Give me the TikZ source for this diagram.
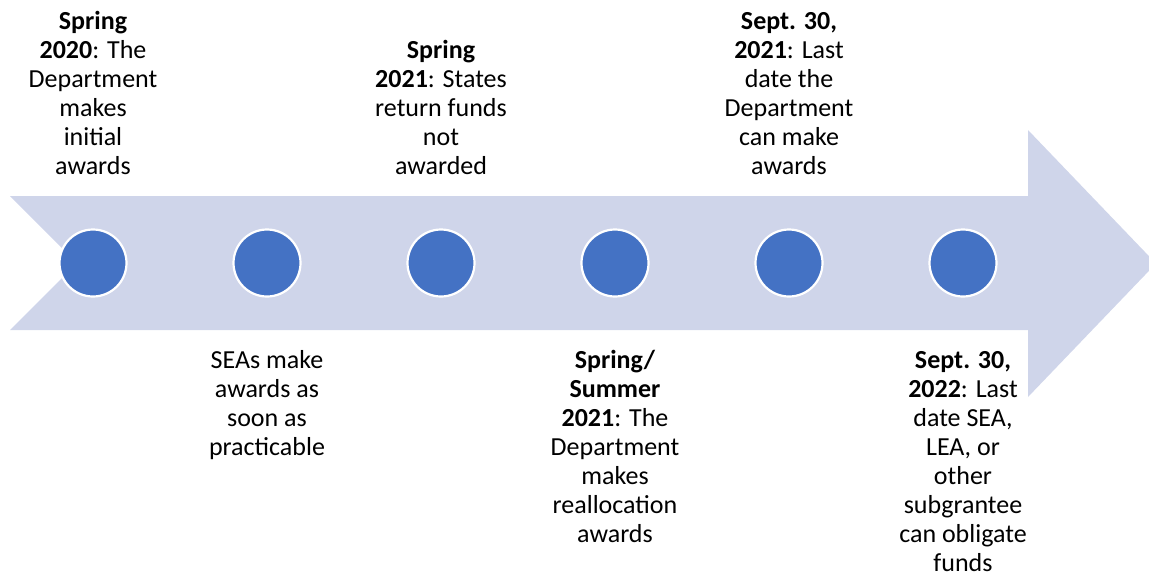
\documentclass[tikz,border=0pt]{standalone}
\usepackage{fontspec}
\setmainfont{Carlito}
\definecolor{arrowfill}{HTML}{CFD5EA}
\definecolor{dotfill}{HTML}{4472C4}
\begin{document}
\begin{tikzpicture}[x=1pt,y=-1pt,
  dot/.style={circle,fill=dotfill,draw=white,line width=2.2pt,minimum size=67pt,inner sep=0pt},
  lbl/.style={inner sep=0pt,anchor=base}]
\useasboundingbox (0,0) rectangle (1149,576);
\clip (0,0) rectangle (1149,576);
\fill[arrowfill] (10,196) -- (1028,196) -- (1028,130) -- (1156,263.5) -- (1028,397) -- (1028,330) -- (10,330) -- (77,263) -- cycle;
\foreach \i/\x in {1/93,2/267,3/441,4/615,5/789,6/963}{
  \node[dot] (c\i) at (\x,263) {};
}
\newcommand{\toptxt}[1]{\parbox[b]{170pt}{\fontsize{26}{29}\selectfont\centering #1}}
\newcommand{\bottxt}[1]{\parbox[t]{170pt}{\fontsize{26}{29}\selectfont\centering #1}}
\node[lbl] (t1) at (93,174) {\toptxt{\textbf{Spring}\\\textbf{2020}: The\\Department\\makes\\initial\\awards}};
\node[lbl] (t3) at (441,174) {\toptxt{\textbf{Spring}\\\textbf{2021}: States\\return funds\\not\\awarded}};
\node[lbl] (t5) at (789,174) {\toptxt{\textbf{Sept. 30,}\\\textbf{2021}: Last\\date the\\Department\\can make\\awards}};
\node[lbl] (t2) at (267,368) {\bottxt{SEAs make\\awards as\\soon as\\practicable}};
\node[lbl] (t4) at (615,368) {\bottxt{\textbf{Spring/}\\\textbf{Summer}\\\textbf{2021}: The\\Department\\makes\\reallocation\\awards}};
\node[lbl] (t6) at (963,368) {\bottxt{\textbf{Sept. 30,}\\\textbf{2022}: Last\\date SEA,\\LEA, or\\other\\subgrantee\\can obligate\\funds}};
\end{tikzpicture}
\end{document}
